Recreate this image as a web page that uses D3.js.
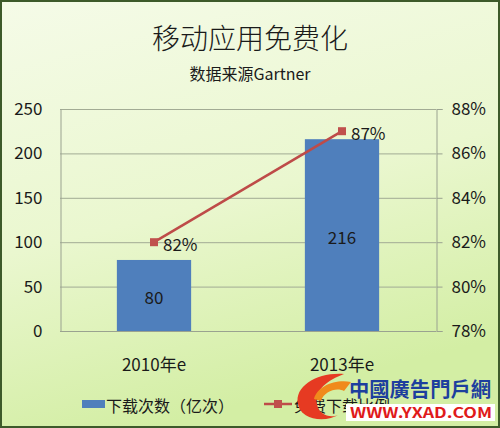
<!DOCTYPE html>
<html><head><meta charset="utf-8">
<script src="https://cdn.jsdelivr.net/npm/d3@7"></script>
<style>html,body{margin:0;padding:0;background:#fff;}svg{display:block;}text{font-family:"Noto Sans CJK SC","Noto Sans",sans-serif;fill:#1a1a1a;}</style>
</head><body>
<script>
const categories = ["2010年e", "2013年e"];
const downloads = [80, 216];
const freeShare = [82, 87];
const leftTicks = [0, 50, 100, 150, 200, 250];
const rightTicks = [78, 80, 82, 84, 86, 88];
const title = "移动应用免费化";
const subtitle = "数据来源Gartner";
const seriesNames = ["下载次数（亿次）", "免费下载比例"];

const W = 500, H = 428;
const svg = d3.select("body").append("svg").attr("width", W).attr("height", H);
const defs = svg.append("defs");
const g = defs.append("linearGradient").attr("id","bg").attr("x1",0).attr("y1",0).attr("x2",0.3).attr("y2",1);
g.append("stop").attr("offset","0%").attr("stop-color","#f5fbe8");
g.append("stop").attr("offset","55%").attr("stop-color","#eaf7cf");
g.append("stop").attr("offset","100%").attr("stop-color","#d3eea4");
svg.append("rect").attr("x",0).attr("y",0).attr("width",W).attr("height",H).attr("fill","url(#bg)");
svg.append("rect").attr("x",1).attr("y",1).attr("width",W-2).attr("height",H-2).attr("fill","none").attr("stroke","#3d5a2a").attr("stroke-width",2);

const x0 = 60, x1 = 436, yTop = 109, yBot = 331;
const x = d3.scaleBand().domain(categories).range([x0, x1]).padding(0);
const yL = d3.scaleLinear().domain([0, 250]).range([yBot, yTop]);
const yR = d3.scaleLinear().domain([78, 88]).range([yBot, yTop]);

// title
svg.append("text").attr("x",250).attr("y",37).attr("text-anchor","middle").attr("dominant-baseline","central").attr("font-size",28).attr("font-weight",300).text(title);
svg.append("text").attr("x",250).attr("y",73).attr("text-anchor","middle").attr("dominant-baseline","central").attr("font-size",16).text(subtitle);

// gridlines
svg.append("g").selectAll("line").data(leftTicks.slice(1)).join("line")
  .attr("x1",x0).attr("x2",x1).attr("y1",d=>yL(d)+0.5).attr("y2",d=>yL(d)+0.5)
  .attr("stroke","#a2ab94").attr("stroke-width",1);

// axes
const axL = svg.append("g").attr("transform",`translate(${x0+0.5},0)`)
  .call(d3.axisLeft(yL).tickValues(leftTicks).tickSize(0).tickPadding(18));
const axR = svg.append("g").attr("transform",`translate(${x1+0.5},0)`)
  .call(d3.axisRight(yR).tickValues(rightTicks).tickSize(6).tickPadding(9).tickFormat(d=>d+"%"));
[axL, axR].forEach(a=>{
  a.select(".domain").attr("stroke","#9aa290");
  a.selectAll(".tick line").attr("stroke","#9aa290");
  a.selectAll("text").attr("font-size",17).attr("fill","#1a1a1a").attr("font-family",'"Noto Sans CJK SC","Noto Sans",sans-serif');
});
// bottom axis
svg.append("line").attr("x1",x0).attr("x2",x1).attr("y1",yBot+0.5).attr("y2",yBot+0.5).attr("stroke","#9aa290");
svg.append("g").selectAll("text").data(categories).join("text")
  .attr("x",d=>x(d)+x.bandwidth()/2).attr("y",363).attr("text-anchor","middle").attr("dominant-baseline","central")
  .attr("font-size",17).text(d=>d);

// bars
const bw = x.bandwidth()*0.395;
svg.append("g").selectAll("rect").data(categories).join("rect")
  .attr("x",(d)=>x(d)+x.bandwidth()/2-bw/2).attr("width",bw)
  .attr("y",(d,i)=>yL(downloads[i])).attr("height",(d,i)=>yBot-yL(downloads[i]))
  .attr("fill","#4f7fbc");
svg.append("g").selectAll("text").data(categories).join("text")
  .attr("x",d=>x(d)+x.bandwidth()/2).attr("y",(d,i)=>(yL(downloads[i])+yBot)/2+1)
  .attr("text-anchor","middle").attr("dominant-baseline","central").attr("font-size",17).text((d,i)=>downloads[i]);

// line
const pts = categories.map((c,i)=>[x(c)+x.bandwidth()/2, yR(freeShare[i])]);
svg.append("path").attr("d",d3.line()(pts)).attr("fill","none").attr("stroke","#be4b48").attr("stroke-width",2.5);
svg.append("g").selectAll("rect").data(pts).join("rect")
  .attr("x",p=>p[0]-4).attr("y",p=>p[1]-4).attr("width",8).attr("height",8).attr("fill","#c0504d");
svg.append("g").selectAll("text").data(pts).join("text")
  .attr("x",p=>p[0]+9).attr("y",p=>p[1]+1).attr("dominant-baseline","central").attr("font-size",17)
  .text((p,i)=>freeShare[i]+"%");

// legend
svg.append("rect").attr("x",82).attr("y",400).attr("width",23).attr("height",8).attr("fill","#4f7fbc");
svg.append("text").attr("x",106).attr("y",405).attr("dominant-baseline","central").attr("font-size",16).text(seriesNames[0]);
svg.append("line").attr("x1",264).attr("x2",292).attr("y1",404).attr("y2",404).attr("stroke","#be4b48").attr("stroke-width",2.5);
svg.append("rect").attr("x",274).attr("y",400).attr("width",8).attr("height",8).attr("fill","#c0504d");
svg.append("text").attr("x",294).attr("y",405).attr("dominant-baseline","central").attr("font-size",16).text(seriesNames[1]);

// watermark
const wm = svg.append("g");
wm.append("rect").attr("x",346).attr("y",404).attr("width",149).attr("height",17).attr("fill","#ffffff");
wm.append("path").attr("d","M298,404 C294,386 318,372 344,374 C328,380 314,390 317,404 C319,416 332,419 340,414 C324,424 300,419 298,404 Z").attr("fill","#e63a22");
wm.append("path").attr("d","M314,399 C317,387 334,379 351,382 L344,391 C337,387 324,391 321,401 Z").attr("fill","#f08a1c");
wm.append("text").attr("x",349).attr("y",388).attr("dominant-baseline","central")
  .attr("font-size",20).attr("font-weight","bold").style("fill","#1d3f9e").attr("font-family",'"Noto Sans CJK TC",sans-serif')
  .attr("textLength",142).attr("lengthAdjust","spacingAndGlyphs").text("中國廣告門戶網");
wm.append("text").attr("x",350).attr("y",412).attr("dominant-baseline","central")
  .attr("font-size",14).attr("font-weight","bold").style("fill","#e01a1a").attr("font-family",'"DejaVu Sans",sans-serif')
  .attr("textLength",142).attr("lengthAdjust","spacingAndGlyphs").text("WWW.YXAD.COM");
</script>
</body></html>
